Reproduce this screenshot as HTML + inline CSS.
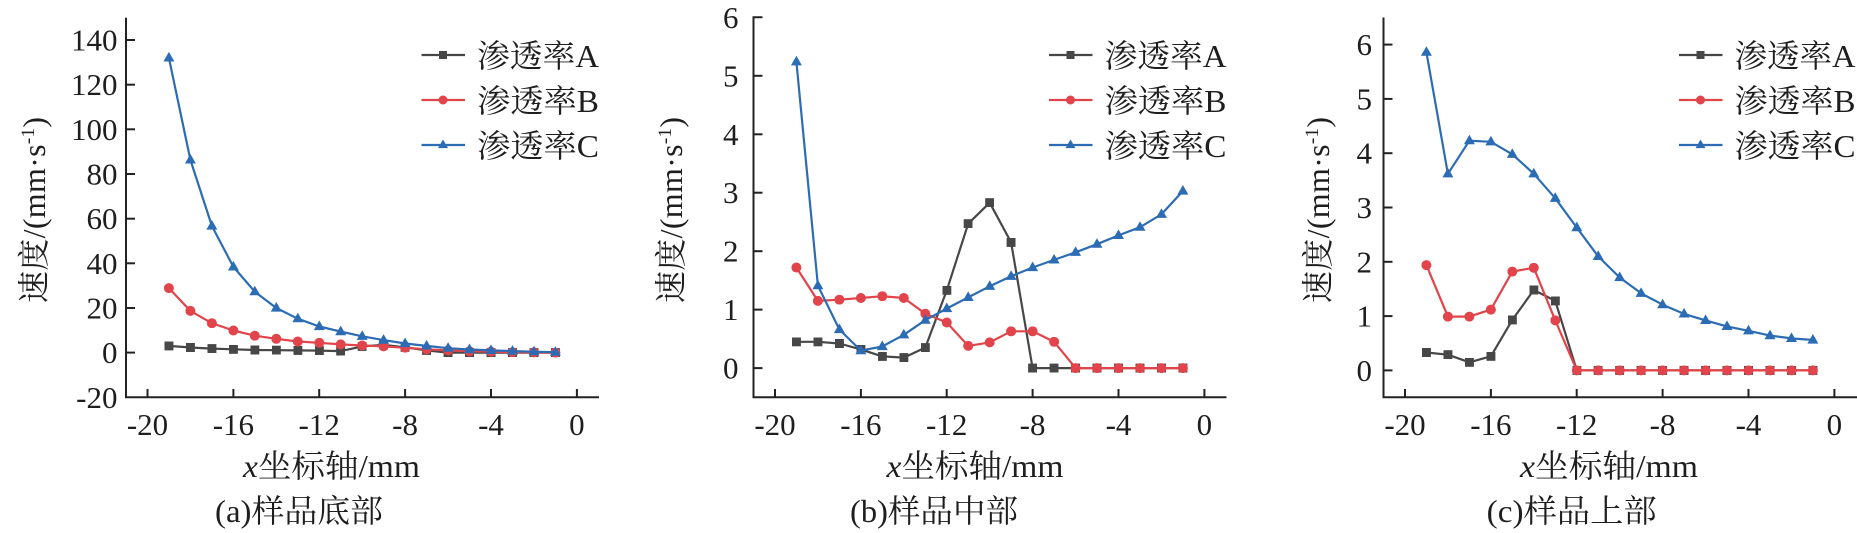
<!DOCTYPE html>
<html><head><meta charset="utf-8"><style>
html,body{margin:0;padding:0;background:#fff;}
svg{display:block;}
text{font-family:"Liberation Serif","Noto Serif CJK SC",serif;fill:#1e1e1e;}
</style></head><body>
<svg width="1857" height="533" viewBox="0 0 1857 533" xmlns="http://www.w3.org/2000/svg">
<defs>
<marker id="sq" viewBox="0 0 9 9" refX="4.5" refY="4.5" markerWidth="9" markerHeight="9" markerUnits="userSpaceOnUse"><rect width="9" height="9" fill="#474747"/></marker>
<marker id="ci" viewBox="0 0 10 10" refX="5" refY="5" markerWidth="10" markerHeight="10" markerUnits="userSpaceOnUse"><circle cx="5" cy="5" r="5" fill="#e2444b"/></marker>
<marker id="tr" viewBox="0 0 11 10" refX="5.5" refY="6" markerWidth="11" markerHeight="10" markerUnits="userSpaceOnUse"><polygon points="0,9.6 5.5,0 11,9.6" fill="#2c6cb4"/></marker>
<marker id="sqs" viewBox="0 0 8 8" refX="4" refY="4" markerWidth="8" markerHeight="8" markerUnits="userSpaceOnUse"><rect width="8" height="8" fill="#474747"/></marker>
<marker id="cis" viewBox="0 0 9 9" refX="4.5" refY="4.5" markerWidth="9" markerHeight="9" markerUnits="userSpaceOnUse"><circle cx="4.5" cy="4.5" r="4.5" fill="#e2444b"/></marker>
<marker id="trs" viewBox="0 0 10 9" refX="5" refY="5.5" markerWidth="10" markerHeight="9" markerUnits="userSpaceOnUse"><polygon points="0,8.6 5,0 10,8.6" fill="#2c6cb4"/></marker>
</defs>

<!-- ================= Panel A ================= -->
<g>
<!-- axes -->
<g stroke="#222" stroke-width="2" fill="none">
<polyline points="126,17.7 126,397.3 599,397.3"/>
<!-- y ticks -->
<line x1="126" y1="40" x2="135" y2="40"/><line x1="126" y1="84.7" x2="135" y2="84.7"/>
<line x1="126" y1="129.3" x2="135" y2="129.3"/><line x1="126" y1="174" x2="135" y2="174"/>
<line x1="126" y1="218.7" x2="135" y2="218.7"/><line x1="126" y1="263.3" x2="135" y2="263.3"/>
<line x1="126" y1="308" x2="135" y2="308"/><line x1="126" y1="352.6" x2="135" y2="352.6"/>
<!-- x ticks -->
<line x1="147.5" y1="397.3" x2="147.5" y2="389"/><line x1="233.4" y1="397.3" x2="233.4" y2="389"/>
<line x1="319.2" y1="397.3" x2="319.2" y2="389"/><line x1="405.1" y1="397.3" x2="405.1" y2="389"/>
<line x1="491" y1="397.3" x2="491" y2="389"/><line x1="576.9" y1="397.3" x2="576.9" y2="389"/>
</g>
<g font-size="31" text-anchor="end">
<text x="117.5" y="50.5">140</text><text x="117.5" y="95.2">120</text><text x="117.5" y="139.8">100</text>
<text x="117.5" y="184.5">80</text><text x="117.5" y="229.2">60</text><text x="117.5" y="273.8">40</text>
<text x="117.5" y="318.5">20</text><text x="117.5" y="363.1">0</text><text x="117.5" y="407.8">-20</text>
</g>
<g font-size="31" text-anchor="middle">
<text x="147.5" y="435">-20</text><text x="233.4" y="435">-16</text><text x="319.2" y="435">-12</text>
<text x="405.1" y="435">-8</text><text x="491" y="435">-4</text><text x="576.9" y="435">0</text>
</g>
<!-- series -->
<g fill="none" stroke-width="2.2" stroke-linejoin="round">
<polyline stroke="#474747" marker-start="url(#sq)" marker-mid="url(#sq)" marker-end="url(#sq)" points="168.9,345.9 190.4,347.5 211.9,348.6 233.4,349.3 254.8,350 276.3,350.2 297.8,350.4 319.3,350.6 340.7,351.1 362.2,346.4 383.6,344.8 405.1,347.3 426.6,350.4 448.1,352.6 469.5,352.6 491,352.6 512.5,352.6 534,352.6 555.4,352.6"/>
<polyline stroke="#e2444b" marker-start="url(#ci)" marker-mid="url(#ci)" marker-end="url(#ci)" points="168.9,288.1 190.4,310.9 211.9,323.2 233.4,330.5 254.8,335.7 276.3,338.8 297.8,341.5 319.3,342.8 340.7,344.4 362.2,345.5 383.6,346.4 405.1,347.7 426.6,349.3 448.1,350.4 469.5,351.3 491,351.7 512.5,352.2 534,352.4 555.4,352.6"/>
<polyline stroke="#2c6cb4" marker-start="url(#tr)" marker-mid="url(#tr)" marker-end="url(#tr)" points="168.9,57.9 190.4,159.9 211.9,226 233.4,266.9 254.8,291.7 276.3,308 297.8,318.7 319.3,326.5 340.7,331.6 362.2,336.3 383.6,340.1 405.1,343.5 426.6,345.9 448.1,348.2 469.5,349.5 491,350.4 512.5,351.1 534,351.7 555.4,352.2"/>
</g>
<!-- legend -->
<g fill="none" stroke-width="2.2">
<polyline stroke="#474747" marker-mid="url(#sqs)" points="421.5,55 443,55 465,55"/>
<polyline stroke="#e2444b" marker-mid="url(#cis)" points="421.5,100 443,100 465,100"/>
<polyline stroke="#2c6cb4" marker-mid="url(#trs)" points="421.5,145 443,145 465,145"/>
</g>
<g font-size="32">
<text x="477" y="67" textLength="122" lengthAdjust="spacingAndGlyphs">渗透率A</text>
<text x="477" y="112" textLength="122" lengthAdjust="spacingAndGlyphs">渗透率B</text>
<text x="477" y="157" textLength="122" lengthAdjust="spacingAndGlyphs">渗透率C</text>
</g>
</g>
<text font-size="32" transform="translate(45,210) rotate(-90)" text-anchor="middle" textLength="186">速度/(mm·s<tspan dy="-11" font-size="19">-1</tspan><tspan dy="11">)</tspan></text>
<text font-size="32" x="331.5" y="477" text-anchor="middle" textLength="177" lengthAdjust="spacingAndGlyphs"><tspan font-style="italic">x</tspan>坐标轴/mm</text>
<text font-size="32" x="299" y="522" text-anchor="middle" textLength="168" lengthAdjust="spacingAndGlyphs">(a)样品底部</text>

<!-- ================= Panel B ================= -->
<g transform="translate(627.5,0)">
<g stroke="#222" stroke-width="2" fill="none">
<polyline points="135,17.3 126,17.3 126,397.3 599,397.3"/>
<line x1="126" y1="75.8" x2="135" y2="75.8"/><line x1="126" y1="134.3" x2="135" y2="134.3"/>
<line x1="126" y1="192.7" x2="135" y2="192.7"/><line x1="126" y1="251.2" x2="135" y2="251.2"/>
<line x1="126" y1="309.6" x2="135" y2="309.6"/><line x1="126" y1="368.1" x2="135" y2="368.1"/>
<line x1="147.5" y1="397.3" x2="147.5" y2="389"/><line x1="233.4" y1="397.3" x2="233.4" y2="389"/>
<line x1="319.2" y1="397.3" x2="319.2" y2="389"/><line x1="405.1" y1="397.3" x2="405.1" y2="389"/>
<line x1="491" y1="397.3" x2="491" y2="389"/><line x1="576.9" y1="397.3" x2="576.9" y2="389"/>
</g>
<g font-size="31" text-anchor="middle">
<text x="147.5" y="435">-20</text><text x="233.4" y="435">-16</text><text x="319.2" y="435">-12</text>
<text x="405.1" y="435">-8</text><text x="491" y="435">-4</text><text x="576.9" y="435">0</text>
</g>
<g fill="none" stroke-width="2.2" stroke-linejoin="round">
<polyline stroke="#474747" marker-start="url(#sq)" marker-mid="url(#sq)" marker-end="url(#sq)" points="168.9,341.8 190.4,341.8 211.9,343.5 233.4,349.4 254.8,356.4 276.3,357.6 297.8,347.6 319.3,290.3 340.7,223.7 362.2,202.7 383.6,242.4 405.1,368.1 426.6,368.1 448.1,368.1 469.5,368.1 491,368.1 512.5,368.1 534,368.1 555.4,368.1"/>
<polyline stroke="#e2444b" marker-start="url(#ci)" marker-mid="url(#ci)" marker-end="url(#ci)" points="168.9,267.5 190.4,300.9 211.9,299.7 233.4,298 254.8,296.2 276.3,298 297.8,313.7 319.3,322.5 340.7,345.9 362.2,342.4 383.6,331.3 405.1,331.3 426.6,341.8 448.1,368.1 469.5,368.1 491,368.1 512.5,368.1 534,368.1 555.4,368.1"/>
<polyline stroke="#2c6cb4" marker-start="url(#tr)" marker-mid="url(#tr)" marker-end="url(#tr)" points="168.9,61.8 190.4,285.7 211.9,329.5 233.4,350.6 254.8,346.5 276.3,334.8 297.8,320.2 319.3,308.5 340.7,297.4 362.2,286.3 383.6,276.3 405.1,267.5 426.6,259.9 448.1,252.3 469.5,244.2 491,235.4 512.5,227.2 534,214.3 555.4,191"/>
</g>
<g fill="none" stroke-width="2.2">
<polyline stroke="#474747" marker-mid="url(#sqs)" points="421.5,55 443,55 465,55"/>
<polyline stroke="#e2444b" marker-mid="url(#cis)" points="421.5,100 443,100 465,100"/>
<polyline stroke="#2c6cb4" marker-mid="url(#trs)" points="421.5,145 443,145 465,145"/>
</g>
<g font-size="32">
<text x="477" y="67" textLength="122" lengthAdjust="spacingAndGlyphs">渗透率A</text>
<text x="477" y="112" textLength="122" lengthAdjust="spacingAndGlyphs">渗透率B</text>
<text x="477" y="157" textLength="122" lengthAdjust="spacingAndGlyphs">渗透率C</text>
</g>
</g>
<g font-size="31" text-anchor="end">
<text x="738.5" y="27.8">6</text><text x="738.5" y="86.3">5</text><text x="738.5" y="144.8">4</text>
<text x="738.5" y="203.2">3</text><text x="738.5" y="261.7">2</text><text x="738.5" y="320.1">1</text>
<text x="738.5" y="378.6">0</text>
</g>
<text font-size="32" transform="translate(682,210) rotate(-90)" text-anchor="middle" textLength="186">速度/(mm·s<tspan dy="-11" font-size="19">-1</tspan><tspan dy="11">)</tspan></text>
<text font-size="32" x="975" y="477" text-anchor="middle" textLength="177" lengthAdjust="spacingAndGlyphs"><tspan font-style="italic">x</tspan>坐标轴/mm</text>
<text font-size="32" x="934" y="522" text-anchor="middle" textLength="168" lengthAdjust="spacingAndGlyphs">(b)样品中部</text>

<!-- ================= Panel C ================= -->
<g transform="translate(1257.5,0)">
<g stroke="#222" stroke-width="2" fill="none">
<polyline points="126,17.5 126,397.3 600,397.3"/>
<line x1="126" y1="44.6" x2="135" y2="44.6"/><line x1="126" y1="98.9" x2="135" y2="98.9"/>
<line x1="126" y1="153.2" x2="135" y2="153.2"/><line x1="126" y1="207.5" x2="135" y2="207.5"/>
<line x1="126" y1="261.8" x2="135" y2="261.8"/><line x1="126" y1="316.1" x2="135" y2="316.1"/>
<line x1="126" y1="370.4" x2="135" y2="370.4"/>
<line x1="147.5" y1="397.3" x2="147.5" y2="389"/><line x1="233.4" y1="397.3" x2="233.4" y2="389"/>
<line x1="319.2" y1="397.3" x2="319.2" y2="389"/><line x1="405.1" y1="397.3" x2="405.1" y2="389"/>
<line x1="491" y1="397.3" x2="491" y2="389"/><line x1="576.9" y1="397.3" x2="576.9" y2="389"/>
</g>
<g font-size="31" text-anchor="middle">
<text x="147.5" y="435">-20</text><text x="233.4" y="435">-16</text><text x="319.2" y="435">-12</text>
<text x="405.1" y="435">-8</text><text x="491" y="435">-4</text><text x="576.9" y="435">0</text>
</g>
<g fill="none" stroke-width="2.2" stroke-linejoin="round">
<polyline stroke="#474747" marker-start="url(#sq)" marker-mid="url(#sq)" marker-end="url(#sq)" points="168.9,352.5 190.4,354.7 211.9,362.3 233.4,356.3 254.8,319.9 276.3,290 297.8,300.9 319.3,370.4 340.7,370.4 362.2,370.4 383.6,370.4 405.1,370.4 426.6,370.4 448.1,370.4 469.5,370.4 491,370.4 512.5,370.4 534,370.4 555.4,370.4"/>
<polyline stroke="#e2444b" marker-start="url(#ci)" marker-mid="url(#ci)" marker-end="url(#ci)" points="168.9,265.1 190.4,316.6 211.9,316.6 233.4,309.6 254.8,271.6 276.3,267.8 297.8,320.4 319.3,370.4 340.7,370.4 362.2,370.4 383.6,370.4 405.1,370.4 426.6,370.4 448.1,370.4 469.5,370.4 491,370.4 512.5,370.4 534,370.4 555.4,370.4"/>
<polyline stroke="#2c6cb4" marker-start="url(#tr)" marker-mid="url(#tr)" marker-end="url(#tr)" points="168.9,52.2 190.4,173.8 211.9,140.7 233.4,141.8 254.8,154.3 276.3,173.8 297.8,198.3 319.3,227.6 340.7,256.4 362.2,277.5 383.6,293.3 405.1,304.7 426.6,313.9 448.1,320.4 469.5,326.4 491,330.8 512.5,335.6 534,338.4 555.4,340"/>
</g>
<g fill="none" stroke-width="2.2">
<polyline stroke="#474747" marker-mid="url(#sqs)" points="421.5,55 443,55 465,55"/>
<polyline stroke="#e2444b" marker-mid="url(#cis)" points="421.5,100 443,100 465,100"/>
<polyline stroke="#2c6cb4" marker-mid="url(#trs)" points="421.5,145 443,145 465,145"/>
</g>
<g font-size="32">
<text x="477" y="67" textLength="121" lengthAdjust="spacingAndGlyphs">渗透率A</text>
<text x="477" y="112" textLength="121" lengthAdjust="spacingAndGlyphs">渗透率B</text>
<text x="477" y="157" textLength="121" lengthAdjust="spacingAndGlyphs">渗透率C</text>
</g>
</g>
<g font-size="31" text-anchor="end">
<text x="1372" y="55.1">6</text><text x="1372" y="109.4">5</text><text x="1372" y="163.7">4</text>
<text x="1372" y="218">3</text><text x="1372" y="272.3">2</text><text x="1372" y="326.6">1</text>
<text x="1372" y="380.9">0</text>
</g>
<text font-size="32" transform="translate(1329,210) rotate(-90)" text-anchor="middle" textLength="186">速度/(mm·s<tspan dy="-11" font-size="19">-1</tspan><tspan dy="11">)</tspan></text>
<text font-size="32" x="1609" y="477" text-anchor="middle" textLength="178" lengthAdjust="spacingAndGlyphs"><tspan font-style="italic">x</tspan>坐标轴/mm</text>
<text font-size="32" x="1571.7" y="522" text-anchor="middle" textLength="170" lengthAdjust="spacingAndGlyphs">(c)样品上部</text>
</svg>
</body></html>
